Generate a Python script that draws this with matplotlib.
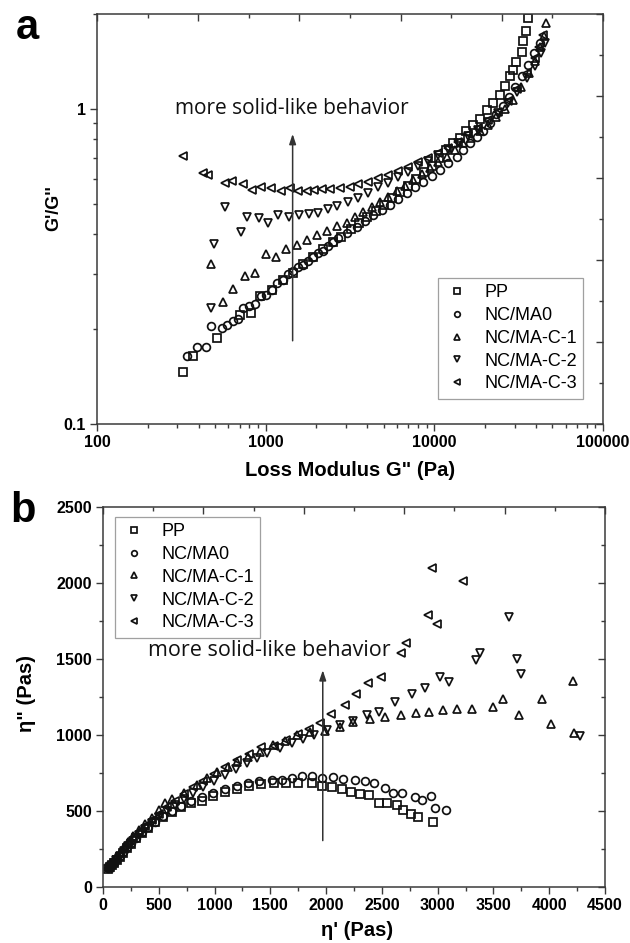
import matplotlib
matplotlib.use("Agg")
import matplotlib.pyplot as plt
from matplotlib.ticker import LogLocator, FixedLocator, FixedFormatter, NullFormatter, MultipleLocator

plt.rcParams["font.family"] = ["Liberation Sans", "DejaVu Sans"]
plt.rcParams["font.weight"] = "bold"

labels = ["PP", "NC/MA0", "NC/MA-C-1", "NC/MA-C-2", "NC/MA-C-3"]
markers = ["s", "o", "^", "v", "<"]

# panel a: loss modulus G'' (Pa) vs G'/G''
pp_a_x = [325, 369, 512, 704, 815, 925, 1084, 1261, 1458, 1672, 1900, 2200, 2500, 2800, 3200, 3600, 4000,
          4500, 5000, 5600, 6300, 7000, 7800, 8700, 9700, 10700, 11800, 12900, 14200, 15500, 17000, 18600,
          20400, 22300, 24500, 26200, 28100, 29300, 30700, 32900, 33600, 34800, 35700]
pp_a_y = [0.146, 0.164, 0.187, 0.222, 0.225, 0.255, 0.266, 0.286, 0.302, 0.323, 0.34, 0.36, 0.378, 0.393,
          0.415, 0.435, 0.455, 0.475, 0.495, 0.52, 0.545, 0.57, 0.60, 0.63, 0.66, 0.70, 0.74, 0.78, 0.81,
          0.85, 0.89, 0.93, 0.99, 1.04, 1.11, 1.18, 1.27, 1.33, 1.41, 1.52, 1.64, 1.76, 1.94]
ma0_a_x = [340, 390, 441, 472, 549, 587, 637, 689, 737, 800, 864, 934, 1004, 1085, 1161, 1271, 1361, 1458,
           1560, 1671, 1790, 1916, 2052, 2198, 2352, 2519, 2698, 3040, 3459, 3873, 4343, 4866, 5452, 6110,
           6848, 7672, 8600, 9640, 10800, 12100, 13550, 14830, 16300, 17800, 19500, 21300, 23300, 25400,
           27700, 30200, 32900, 35800, 39000, 42300]
ma0_a_y = [0.164, 0.175, 0.175, 0.205, 0.201, 0.206, 0.213, 0.216, 0.233, 0.236, 0.240, 0.255, 0.257, 0.267,
           0.281, 0.286, 0.299, 0.305, 0.316, 0.320, 0.328, 0.338, 0.348, 0.355, 0.366, 0.379, 0.388, 0.405,
           0.423, 0.442, 0.461, 0.478, 0.495, 0.517, 0.539, 0.564, 0.588, 0.612, 0.640, 0.673, 0.706, 0.741,
           0.778, 0.815, 0.85, 0.90, 0.96, 1.02, 1.09, 1.17, 1.27, 1.38, 1.50, 1.62]
c1_a_x = [472, 556, 637, 754, 864, 1000, 1151, 1319, 1526, 1749, 2005, 2298, 2634, 3020, 3383, 3790, 4245,
          4756, 5330, 5970, 6690, 7500, 8400, 9410, 10550, 11820, 13250, 14840, 16600, 18600, 20800, 23300,
          26100, 29200, 32700, 36600, 39500, 42500, 44500, 46200]
c1_a_y = [0.322, 0.243, 0.269, 0.295, 0.302, 0.347, 0.340, 0.358, 0.371, 0.383, 0.398, 0.410, 0.425, 0.435,
          0.453, 0.472, 0.487, 0.505, 0.527, 0.547, 0.570, 0.596, 0.622, 0.648, 0.676, 0.706, 0.741, 0.778,
          0.81, 0.85, 0.89, 0.94, 1.00, 1.07, 1.17, 1.30, 1.42, 1.57, 1.70, 1.87]
c2_a_x = [472, 494, 574, 711, 779, 917, 1037, 1189, 1381, 1583, 1815, 2052, 2352, 2635, 3090, 3540, 4060,
          4650, 5330, 6110, 7000, 8030, 9200, 10550, 12100, 13870, 15900, 18200, 20800, 23800, 27200, 31100,
          35500, 39500, 42800, 45300]
c2_a_y = [0.233, 0.372, 0.487, 0.406, 0.455, 0.450, 0.435, 0.461, 0.453, 0.461, 0.464, 0.466, 0.480, 0.492,
          0.508, 0.520, 0.539, 0.564, 0.583, 0.610, 0.632, 0.660, 0.685, 0.714, 0.745, 0.782, 0.82, 0.86,
          0.91, 0.97, 1.04, 1.13, 1.25, 1.37, 1.50, 1.62]
c3_a_x = [325, 427, 457, 574, 629, 732, 827, 938, 1071, 1227, 1393, 1561, 1751, 1933, 2147, 2406, 2756, 3162,
          3540, 4060, 4650, 5330, 6110, 7000, 8030, 9200, 10550, 12100, 13870, 15900, 18200, 20800, 23800,
          27200, 31100, 35500, 39500, 42000, 44000]
c3_a_y = [0.711, 0.628, 0.617, 0.581, 0.592, 0.578, 0.553, 0.567, 0.560, 0.550, 0.560, 0.550, 0.550, 0.553,
          0.556, 0.556, 0.560, 0.567, 0.576, 0.588, 0.602, 0.617, 0.637, 0.656, 0.676, 0.697, 0.723, 0.750,
          0.787, 0.83, 0.87, 0.92, 0.98, 1.06, 1.16, 1.30, 1.45, 1.57, 1.72]

# panel b: eta' (Pas) vs eta'' (Pas)
pp_b_x = [45, 60, 80, 100, 125, 150, 180, 215, 255, 300, 350, 405, 470, 540, 615, 700, 790, 885, 985, 1090,
          1200, 1310, 1420, 1530, 1640, 1750, 1870, 1960, 2052, 2139, 2219, 2303, 2386, 2476, 2542, 2632,
          2691, 2760, 2826, 2960]
pp_b_y = [120, 130, 145, 160, 180, 200, 225, 255, 285, 320, 355, 390, 425, 460, 495, 528, 550, 565, 600, 625,
          648, 665, 678, 682, 684, 686, 682, 664, 655, 642, 627, 610, 605, 555, 555, 539, 507, 480, 462, 430]
ma0_b_x = [45, 60, 80, 100, 125, 150, 180, 215, 255, 300, 350, 405, 470, 540, 615, 700, 790, 885, 985, 1090,
           1200, 1300, 1400, 1512, 1601, 1691, 1780, 1870, 1960, 2058, 2153, 2258, 2348, 2428, 2527, 2601,
           2676, 2796, 2856, 2936, 2975, 3079]
ma0_b_y = [125, 135, 150, 165, 185, 205, 230, 260, 290, 325, 360, 395, 430, 465, 500, 535, 565, 595, 620, 645,
           665, 685, 697, 702, 707, 719, 730, 730, 719, 723, 713, 702, 697, 686, 649, 620, 620, 589, 572, 598,
           517, 507]
c1_b_x = [50, 70, 95, 120, 150, 185, 225, 270, 320, 375, 435, 500, 560, 615, 725, 840, 930, 1019, 1123, 1198,
          1302, 1407, 1526, 1631, 1736, 1855, 1989, 2124, 2243, 2392, 2527, 2667, 2805, 2924, 3044, 3169,
          3306, 3492, 3587, 3731, 3936, 4012, 4214, 4220]
c1_b_y = [130, 150, 170, 195, 225, 260, 295, 335, 375, 415, 455, 505, 550, 580, 616, 671, 715, 759, 791, 824,
          857, 890, 934, 963, 1000, 1022, 1028, 1054, 1088, 1103, 1120, 1132, 1147, 1153, 1164, 1172, 1172,
          1186, 1237, 1132, 1237, 1072, 1355, 1015]
c2_b_x = [50, 70, 95, 120, 150, 185, 225, 270, 320, 375, 435, 500, 570, 645, 725, 810, 900, 995, 1095, 1190,
          1287, 1380, 1467, 1586, 1691, 1790, 1890, 2004, 2124, 2243, 2363, 2473, 2622, 2769, 2888, 3020,
          3103, 3342, 3378, 3641, 3713, 3751, 4274]
c2_b_y = [125, 140, 160, 180, 205, 235, 270, 305, 340, 380, 420, 460, 500, 540, 580, 620, 660, 700, 740, 778,
          814, 848, 879, 912, 945, 975, 1003, 1033, 1066, 1094, 1132, 1149, 1219, 1267, 1306, 1383, 1350,
          1493, 1541, 1774, 1500, 1401, 995]
c3_b_x = [50, 70, 95, 120, 150, 185, 225, 270, 320, 375, 435, 500, 570, 645, 725, 810, 900, 995, 1095, 1200,
          1310, 1420, 1530, 1640, 1750, 1850, 1944, 2040, 2168, 2272, 2377, 2491, 2667, 2715, 2915, 2951,
          2990, 3229]
c3_b_y = [128, 145, 165, 190, 218, 250, 285, 322, 360, 400, 440, 482, 525, 568, 612, 655, 700, 745, 790, 835,
          878, 920, 930, 965, 1005, 1040, 1076, 1138, 1197, 1267, 1344, 1379, 1541, 1607, 1789, 2101, 1730,
          2015]

series_a = [(pp_a_x, pp_a_y), (ma0_a_x, ma0_a_y), (c1_a_x, c1_a_y), (c2_a_x, c2_a_y), (c3_a_x, c3_a_y)]
series_b = [(pp_b_x, pp_b_y), (ma0_b_x, ma0_b_y), (c1_b_x, c1_b_y), (c2_b_x, c2_b_y), (c3_b_x, c3_b_y)]

SPINE = "#3a3a3a"
W, H = 630, 943


def px_axes(left, top, right, bottom):
    return [left / W, 1 - bottom / H, (right - left) / W, (bottom - top) / H]


def mirror_ticks(fig, ax):
    # top/right ticks of the original are evenly spaced and point inward
    ov = fig.add_axes(ax.get_position(), frameon=False)
    ov.set_xlim(0, 10)
    ov.set_ylim(0, 10)
    ov.xaxis.tick_top()
    ov.yaxis.tick_right()
    ov.set_xticks(range(0, 11, 2))
    ov.set_xticks(range(1, 11, 2), minor=True)
    ov.set_yticks(range(0, 11, 2))
    ov.set_yticks(range(1, 11, 2), minor=True)
    ov.tick_params(which="both", direction="in", labeltop=False, labelright=False,
                   labelbottom=False, labelleft=False, color=SPINE, width=1)
    ov.tick_params(which="major", length=5)
    ov.tick_params(which="minor", length=3)
    ov.patch.set_visible(False)
    return ov


def style_main(ax):
    for s in ax.spines.values():
        s.set_color(SPINE)
        s.set_linewidth(1.1)
    ax.tick_params(which="both", direction="out", top=False, right=False, color=SPINE, width=1,
                   labelsize=11.5, pad=3)
    ax.tick_params(which="major", length=5)
    ax.tick_params(which="minor", length=3)


def draw_points(ax, series):
    for (x, y), m, lab in zip(series, markers, labels):
        ax.plot(x, y, linestyle="none", marker=m, markersize=5.6, markerfacecolor="none",
                markeredgecolor="#111111", markeredgewidth=1.25, label=lab)


def add_legend(ax, loc, anchor):
    leg = ax.legend(loc=loc, bbox_to_anchor=anchor, borderaxespad=0, fancybox=False, frameon=True,
                    prop={"family": "Liberation Sans", "weight": "normal", "size": 13},
                    markerscale=0.72, handlelength=1.4, handletextpad=0.8, labelspacing=0.32,
                    borderpad=0.35)
    leg.get_frame().set_edgecolor("#888888")
    leg.get_frame().set_linewidth(0.9)
    return leg


fig = plt.figure(figsize=(6.3, 9.43), dpi=100)

# ---- panel a ----
ax_a = fig.add_axes(px_axes(97, 14, 603, 424))
draw_points(ax_a, series_a)
ax_a.set_xscale("log")
ax_a.set_yscale("log")
ax_a.set_xlim(100, 100000)
ax_a.set_ylim(0.1, 2.0)
ax_a.xaxis.set_major_locator(FixedLocator([100, 1000, 10000, 100000]))
ax_a.xaxis.set_major_formatter(FixedFormatter(["100", "1000", "10000", "100000"]))
ax_a.xaxis.set_minor_locator(LogLocator(base=10, subs=range(2, 10)))
ax_a.xaxis.set_minor_formatter(NullFormatter())
ax_a.yaxis.set_major_locator(FixedLocator([0.1, 1]))
ax_a.yaxis.set_major_formatter(FixedFormatter(["0.1", "1"]))
ax_a.yaxis.set_minor_locator(LogLocator(base=10, subs=range(2, 10)))
ax_a.yaxis.set_minor_formatter(NullFormatter())
style_main(ax_a)
add_legend(ax_a, "upper right", (0.9605, 0.356))
ax_a.annotate("", xy=(1445, 0.85), xytext=(1445, 0.18),
              arrowprops=dict(arrowstyle="-|>,head_length=0.6,head_width=0.2", color="#333333", lw=1.1))
ax_a.text(290, 1.0, "more solid-like behavior", ha="left", va="center", fontsize=15,
          family=["Open Sans", "DejaVu Sans"], weight="medium", color="#111111")
mirror_ticks(fig, ax_a)

# ---- panel b ----
ax_b = fig.add_axes(px_axes(103, 507, 605, 887))
draw_points(ax_b, series_b)
ax_b.set_xlim(0, 4500)
ax_b.set_ylim(0, 2500)
ax_b.xaxis.set_major_locator(MultipleLocator(500))
ax_b.xaxis.set_minor_locator(MultipleLocator(250))
ax_b.yaxis.set_major_locator(MultipleLocator(500))
ax_b.yaxis.set_minor_locator(MultipleLocator(250))
style_main(ax_b)
add_legend(ax_b, "upper left", (0.024, 0.974))
ax_b.annotate("", xy=(1970, 1445), xytext=(1970, 287),
              arrowprops=dict(arrowstyle="-|>,head_length=0.6,head_width=0.2", color="#333333", lw=1.1))
ax_b.text(406, 1559, "more solid-like behavior", ha="left", va="center", fontsize=15.5,
          family=["Open Sans", "DejaVu Sans"], weight="medium", color="#111111")
mirror_ticks(fig, ax_b)

# labels placed in figure pixels
fig.text(27 / W, 1 - 28 / H, "a", fontsize=30, weight="bold", ha="center", va="center")
fig.text(23 / W, 1 - 511 / H, "b", fontsize=30, weight="bold", ha="center", va="center")
fig.text(54 / W, 1 - 208 / H, "G'/G''", rotation=90, fontsize=13, ha="center", va="center")
fig.text(350 / W, 1 - 470 / H, 'Loss Modulus G" (Pa)', fontsize=14.5, ha="center", va="center")
fig.text(27 / W, 1 - 694 / H, 'η" (Pas)', rotation=90, fontsize=14.5, ha="center", va="center")
fig.text(357 / W, 1 - 930 / H, "η' (Pas)", fontsize=14.5, ha="center", va="center")

fig.savefig("out.png", dpi=100)
plt.close(fig)
